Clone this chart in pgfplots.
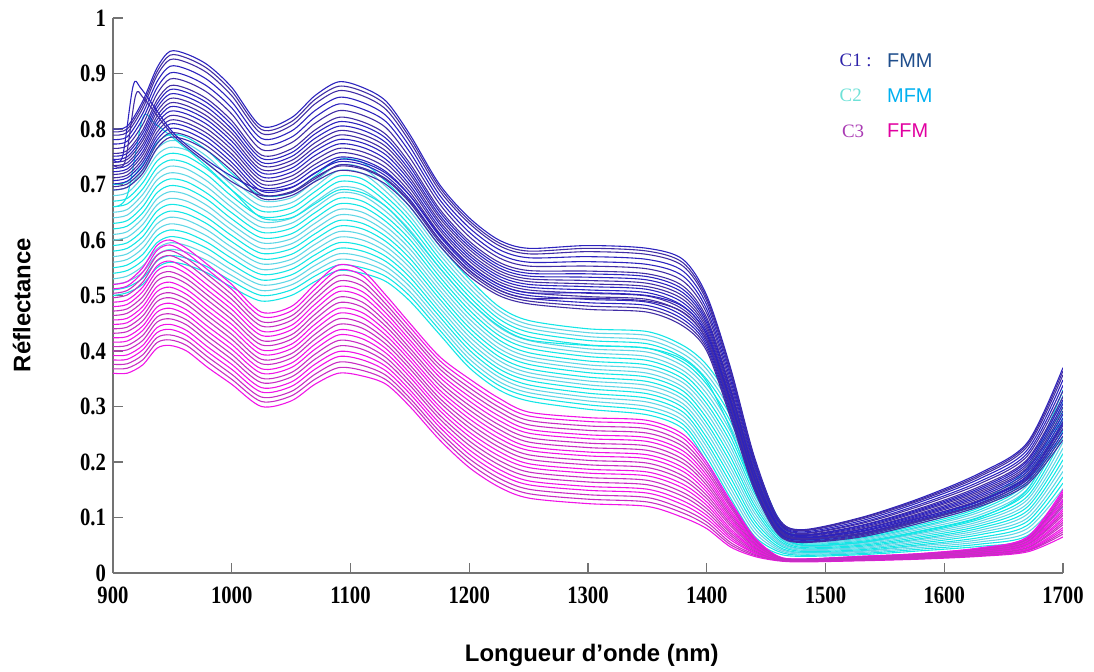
\documentclass[border=0pt]{standalone}
\usepackage{fontspec}
\setmainfont{Liberation Serif}
\setsansfont{Liberation Sans}
\newfontfamily\tickfont{Liberation Serif Bold}[FakeStretch=0.83]
\usepackage{pgfplots}
\pgfplotsset{compat=1.18}
\usepackage{pgfplotstable}

\definecolor{cB1}{RGB}{45,35,190}
\definecolor{cB2}{RGB}{65,45,165}
\definecolor{cC1}{RGB}{20,230,230}
\definecolor{cC2}{RGB}{95,215,230}
\definecolor{cM1}{RGB}{240,20,230}
\definecolor{cM2}{RGB}{200,45,195}
\definecolor{axgray}{RGB}{115,115,115}
\definecolor{lFMM}{RGB}{31,78,140}
\definecolor{lMFM}{RGB}{0,176,240}
\definecolor{lFFM}{RGB}{225,0,160}
\definecolor{lC1}{RGB}{45,35,170}
\definecolor{lC2}{RGB}{110,225,215}
\definecolor{lC3}{RGB}{170,60,180}

\pgfplotstableread{
x b1 b2 b3 b4 b5 b6 b7 b8 b9 b10
900 .80 .789 .773 .756 .745 .734 .723 .712 .701 .69
912 .805 .794 .778 .761 .75 .739 .728 .717 .706 .695
925 .85 .837 .818 .798 .785 .772 .759 .746 .733 .72
937 .91 .896 .874 .852 .838 .823 .809 .794 .78 .765
948 .94 .925 .901 .878 .863 .847 .832 .816 .801 .785
962 .935 .92 .896 .873 .858 .842 .827 .811 .796 .78
980 .915 .90 .876 .853 .838 .822 .807 .791 .776 .76
1000 .875 .86 .838 .815 .80 .785 .77 .755 .74 .725
1025 .805 .792 .773 .753 .74 .727 .714 .701 .688 .675
1050 .82 .806 .785 .764 .75 .736 .722 .708 .694 .68
1070 .86 .845 .821 .798 .783 .767 .752 .736 .721 .705
1090 .885 .869 .845 .821 .805 .789 .773 .757 .741 .725
1110 .875 .86 .836 .813 .798 .782 .767 .751 .736 .72
1130 .85 .835 .813 .79 .775 .76 .745 .73 .715 .70
1150 .79 .777 .758 .738 .725 .712 .699 .686 .673 .66
1175 .70 .689 .673 .656 .645 .634 .623 .612 .601 .59
1200 .64 .63 .614 .598 .588 .577 .567 .556 .546 .535
1225 .60 .59 .575 .56 .55 .54 .53 .52 .51 .50
1250 .585 .575 .56 .545 .535 .525 .515 .505 .495 .485
1300 .59 .579 .561 .544 .533 .521 .51 .498 .487 .475
1350 .585 .574 .556 .539 .528 .516 .505 .493 .482 .47
1380 .565 .553 .535 .517 .505 .493 .481 .469 .457 .445
1400 .50 .49 .475 .46 .45 .44 .43 .42 .41 .40
1420 .37 .361 .348 .334 .325 .316 .307 .298 .289 .28
1440 .21 .204 .195 .186 .18 .174 .168 .162 .156 .15
1460 .10 .097 .093 .088 .085 .082 .079 .076 .073 .07
1480 .078 .076 .072 .069 .067 .064 .062 .06 .057 .055
1530 .10 .097 .091 .086 .083 .079 .076 .072 .069 .065
1580 .135 .131 .124 .117 .113 .108 .104 .099 .095 .09
1630 .18 .174 .165 .156 .15 .144 .138 .132 .126 .12
1670 .235 .228 .216 .205 .198 .19 .183 .175 .168 .16
1700 .37 .357 .338 .318 .305 .292 .279 .266 .253 .24
}\bluetab

\pgfplotstableread{
x d1 d2 d3 d4 d5 d6 d7 d8 d9
900 .795 .781 .765 .751 .74 .729 .718 .707 .696
912 .80 .786 .77 .756 .745 .734 .723 .712 .701
925 .844 .828 .808 .792 .779 .766 .753 .74 .727
937 .903 .885 .863 .845 .831 .816 .802 .787 .773
948 .933 .913 .89 .871 .855 .84 .824 .809 .793
962 .928 .908 .885 .866 .85 .835 .819 .804 .788
980 .908 .888 .865 .846 .83 .815 .799 .784 .768
1000 .868 .849 .827 .808 .793 .778 .763 .748 .733
1025 .799 .783 .763 .747 .734 .721 .708 .695 .682
1050 .813 .796 .775 .757 .743 .729 .715 .701 .687
1070 .853 .833 .81 .791 .775 .76 .744 .729 .713
1090 .877 .857 .833 .813 .797 .781 .765 .749 .733
1110 .868 .848 .825 .806 .79 .775 .759 .744 .728
1130 .843 .824 .802 .783 .768 .753 .738 .723 .708
1150 .784 .768 .748 .732 .719 .706 .693 .68 .667
1175 .695 .681 .665 .651 .64 .629 .618 .607 .596
1200 .635 .622 .606 .593 .583 .572 .562 .551 .541
1225 .595 .583 .568 .555 .545 .535 .525 .515 .505
1250 .58 .568 .553 .54 .53 .52 .51 .50 .49
1300 .585 .57 .553 .539 .527 .516 .504 .493 .481
1350 .58 .565 .548 .534 .522 .511 .499 .488 .476
1380 .559 .544 .526 .511 .499 .487 .475 .463 .451
1400 .495 .483 .468 .455 .445 .435 .425 .415 .405
1420 .366 .355 .341 .33 .321 .312 .303 .294 .285
1440 .207 .20 .191 .183 .177 .171 .165 .159 .153
1460 .099 .095 .091 .087 .084 .081 .078 .075 .072
1480 .077 .074 .071 .068 .066 .063 .061 .059 .056
1530 .099 .094 .089 .085 .081 .078 .074 .071 .067
1580 .133 .128 .121 .115 .111 .106 .102 .097 .093
1630 .177 .17 .161 .153 .147 .141 .135 .129 .123
1670 .232 .222 .211 .202 .194 .187 .179 .172 .164
1700 .364 .348 .328 .312 .299 .286 .273 .26 .247
}\bluemid

\pgfplotstableread{
x c1 c2 c3 c4 c5 c6 c7 c8 c9 c10 c11
900 .70 .68 .66 .64 .62 .60 .58 .56 .54 .52 .50
912 .705 .685 .665 .645 .625 .605 .585 .565 .545 .525 .505
925 .735 .714 .692 .671 .649 .628 .606 .585 .563 .542 .52
937 .775 .753 .73 .708 .685 .663 .64 .618 .595 .573 .55
948 .79 .767 .744 .721 .698 .675 .652 .629 .606 .583 .56
962 .785 .762 .739 .716 .693 .67 .647 .624 .601 .578 .555
980 .76 .738 .716 .694 .672 .65 .628 .606 .584 .562 .54
1000 .72 .70 .679 .659 .638 .618 .597 .577 .556 .536 .515
1025 .68 .661 .642 .623 .604 .585 .566 .547 .528 .509 .49
1050 .685 .667 .648 .63 .611 .593 .574 .556 .537 .519 .50
1070 .715 .696 .677 .658 .639 .62 .601 .582 .563 .544 .525
1090 .745 .725 .705 .685 .665 .645 .625 .605 .585 .565 .545
1110 .74 .72 .70 .68 .66 .64 .62 .60 .58 .56 .54
1130 .705 .687 .669 .651 .633 .615 .597 .579 .561 .543 .525
1150 .66 .643 .626 .609 .592 .575 .558 .541 .524 .507 .49
1175 .59 .574 .558 .542 .526 .51 .494 .478 .462 .446 .43
1200 .53 .514 .498 .482 .466 .45 .434 .418 .402 .386 .37
1225 .48 .465 .45 .435 .42 .405 .39 .375 .36 .345 .33
1250 .455 .441 .426 .412 .397 .383 .368 .354 .339 .325 .31
1300 .44 .426 .411 .397 .382 .368 .353 .339 .324 .31 .295
1350 .435 .42 .405 .39 .375 .36 .345 .33 .315 .30 .285
1380 .41 .395 .38 .365 .35 .335 .32 .305 .29 .275 .26
1400 .375 .358 .34 .323 .305 .288 .27 .253 .235 .218 .20
1420 .31 .292 .273 .255 .236 .218 .199 .181 .162 .144 .125
1440 .20 .186 .172 .158 .144 .13 .116 .102 .088 .074 .06
1460 .10 .094 .087 .081 .074 .068 .061 .055 .048 .042 .035
1480 .065 .062 .058 .055 .051 .048 .044 .041 .037 .034 .03
1530 .07 .066 .063 .059 .055 .052 .048 .044 .04 .037 .033
1580 .095 .09 .084 .079 .073 .068 .062 .057 .051 .046 .04
1630 .13 .122 .114 .105 .097 .089 .081 .073 .064 .056 .048
1670 .19 .177 .164 .151 .138 .125 .112 .099 .086 .073 .06
1700 .33 .309 .288 .267 .246 .225 .204 .183 .162 .141 .12
}\cyantab

\pgfplotstableread{
x e1 e2 e3 e4 e5 e6 e7 e8 e9 e10
900 .69 .67 .65 .63 .61 .59 .57 .55 .53 .51
912 .695 .675 .655 .635 .615 .595 .575 .555 .535 .515
925 .725 .703 .682 .66 .639 .617 .596 .574 .553 .531
937 .764 .742 .719 .697 .674 .652 .629 .607 .584 .562
948 .779 .756 .733 .710 .687 .664 .641 .618 .595 .572
962 .774 .751 .728 .705 .682 .659 .636 .613 .590 .567
980 .749 .727 .705 .683 .661 .639 .617 .595 .573 .551
1000 .71 .69 .669 .649 .628 .608 .587 .567 .546 .526
1025 .671 .652 .633 .614 .595 .576 .557 .538 .519 .50
1050 .676 .658 .639 .621 .602 .584 .565 .547 .528 .51
1070 .706 .687 .668 .649 .63 .611 .592 .573 .554 .535
1090 .735 .715 .695 .675 .655 .635 .615 .595 .575 .555
1110 .73 .71 .69 .67 .65 .63 .61 .59 .57 .55
1130 .696 .678 .66 .642 .624 .606 .588 .57 .552 .534
1150 .652 .635 .618 .601 .584 .567 .55 .533 .516 .499
1175 .582 .566 .55 .534 .518 .502 .486 .47 .454 .438
1200 .522 .506 .49 .474 .458 .442 .426 .41 .394 .378
1225 .473 .458 .443 .428 .413 .398 .383 .368 .353 .338
1250 .448 .434 .419 .405 .39 .376 .361 .347 .332 .318
1300 .433 .419 .404 .39 .375 .361 .346 .332 .317 .303
1350 .428 .413 .398 .383 .368 .353 .338 .323 .308 .293
1380 .403 .388 .373 .358 .343 .328 .313 .298 .283 .268
1400 .367 .349 .332 .314 .297 .279 .262 .244 .227 .209
1420 .301 .283 .264 .246 .227 .209 .19 .172 .153 .135
1440 .193 .179 .165 .151 .137 .123 .109 .095 .081 .067
1460 .097 .091 .084 .078 .071 .065 .058 .052 .045 .039
1480 .064 .06 .057 .053 .05 .046 .043 .039 .036 .032
1530 .068 .065 .061 .057 .054 .05 .046 .042 .039 .035
1580 .093 .087 .082 .076 .071 .065 .06 .054 .049 .043
1630 .126 .118 .11 .101 .093 .085 .077 .069 .06 .052
1670 .184 .171 .158 .145 .132 .119 .106 .093 .08 .067
1700 .32 .299 .278 .257 .236 .215 .194 .173 .152 .131
}\cyanmid

\pgfplotstableread{
x m1 m2 m3 m4 m5 m6 m7 m8 m9 m10 m11
900 .52 .504 .488 .472 .456 .44 .424 .408 .392 .376 .36
912 .525 .509 .492 .476 .459 .443 .426 .41 .393 .377 .36
925 .55 .533 .515 .498 .48 .463 .445 .428 .41 .393 .375
937 .59 .572 .553 .535 .516 .498 .479 .461 .442 .424 .405
948 .60 .581 .562 .543 .524 .505 .486 .467 .448 .429 .41
962 .585 .567 .548 .53 .511 .493 .474 .456 .437 .419 .40
980 .555 .537 .518 .50 .481 .463 .444 .426 .407 .389 .37
1000 .52 .502 .484 .466 .448 .43 .412 .394 .376 .358 .34
1025 .47 .453 .436 .419 .402 .385 .368 .351 .334 .317 .30
1050 .48 .463 .446 .429 .412 .395 .378 .361 .344 .327 .31
1070 .52 .502 .484 .466 .448 .43 .412 .394 .376 .358 .34
1090 .555 .536 .516 .497 .477 .458 .438 .419 .399 .38 .36
1110 .545 .526 .507 .488 .469 .45 .431 .412 .393 .374 .355
1130 .50 .484 .468 .452 .436 .42 .404 .388 .372 .356 .34
1150 .45 .435 .42 .405 .39 .375 .36 .345 .33 .315 .30
1175 .39 .375 .36 .345 .33 .315 .30 .285 .27 .255 .24
1200 .35 .334 .318 .302 .286 .27 .254 .238 .222 .206 .19
1225 .315 .299 .283 .267 .251 .235 .219 .203 .187 .171 .155
1250 .29 .275 .259 .244 .228 .213 .197 .182 .166 .151 .135
1300 .28 .265 .249 .234 .218 .203 .187 .172 .156 .141 .125
1350 .275 .26 .244 .229 .213 .198 .182 .167 .151 .136 .12
1380 .25 .235 .22 .205 .19 .175 .16 .145 .13 .115 .10
1400 .20 .188 .176 .164 .152 .14 .128 .116 .104 .092 .08
1420 .13 .122 .113 .105 .097 .089 .08 .072 .064 .055 .047
1440 .065 .062 .058 .055 .051 .048 .044 .041 .037 .034 .03
1460 .03 .029 .028 .028 .027 .026 .025 .024 .024 .023 .022
1480 .025 .025 .024 .024 .023 .023 .022 .022 .021 .021 .02
1530 .03 .029 .028 .028 .027 .026 .025 .024 .024 .023 .022
1580 .035 .034 .033 .032 .031 .03 .029 .028 .027 .026 .025
1630 .045 .044 .042 .041 .039 .038 .036 .035 .033 .032 .03
1670 .065 .062 .06 .057 .054 .052 .049 .046 .043 .041 .038
1700 .15 .142 .133 .125 .116 .108 .099 .091 .082 .074 .065
}\magtab

\pgfplotstableread{
x n1 n2 n3 n4 n5 n6 n7 n8 n9 n10
900 .512 .496 .48 .464 .448 .432 .416 .40 .384 .368
912 .517 .501 .484 .468 .451 .435 .418 .402 .385 .369
925 .542 .524 .507 .489 .472 .454 .437 .419 .402 .384
937 .581 .563 .544 .526 .507 .489 .47 .452 .433 .415
948 .591 .572 .553 .534 .515 .496 .477 .458 .439 .42
962 .576 .558 .539 .521 .502 .484 .465 .447 .428 .41
980 .546 .528 .509 .491 .472 .454 .435 .417 .398 .38
1000 .511 .493 .475 .457 .439 .421 .403 .385 .367 .349
1025 .462 .445 .428 .411 .394 .377 .36 .343 .326 .309
1050 .472 .455 .438 .421 .404 .387 .37 .353 .336 .319
1070 .511 .493 .475 .457 .439 .421 .403 .385 .367 .349
1090 .546 .526 .507 .487 .468 .448 .429 .409 .39 .37
1110 .536 .517 .498 .479 .46 .441 .422 .403 .384 .365
1130 .492 .476 .46 .444 .428 .412 .396 .38 .364 .348
1150 .443 .428 .413 .398 .383 .368 .353 .338 .323 .308
1175 .383 .368 .353 .338 .323 .308 .293 .278 .263 .248
1200 .342 .326 .31 .294 .278 .262 .246 .23 .214 .198
1225 .307 .291 .275 .259 .243 .227 .211 .195 .179 .163
1250 .283 .267 .252 .236 .221 .205 .19 .174 .159 .143
1300 .273 .257 .242 .226 .211 .195 .18 .164 .149 .133
1350 .268 .252 .237 .221 .206 .19 .175 .159 .144 .128
1380 .243 .228 .213 .198 .183 .168 .153 .138 .123 .108
1400 .194 .182 .17 .158 .146 .134 .122 .11 .098 .086
1420 .126 .118 .109 .101 .093 .085 .076 .068 .06 .051
1440 .064 .06 .057 .053 .05 .046 .043 .039 .036 .032
1460 .03 .029 .028 .028 .027 .026 .025 .024 .024 .023
1480 .025 .025 .024 .024 .023 .023 .022 .022 .021 .021
1530 .03 .029 .028 .028 .027 .026 .025 .024 .024 .023
1580 .035 .034 .033 .032 .031 .03 .029 .028 .027 .026
1630 .045 .043 .042 .04 .039 .037 .036 .034 .033 .031
1670 .064 .061 .059 .056 .053 .051 .048 .045 .042 .04
1700 .146 .138 .129 .121 .112 .104 .095 .087 .078 .07
}\magmid

\begin{document}
\begin{tikzpicture}
\path[use as bounding box] (-56.5bp,-49.5bp) rectangle (490.5bp,286.5bp);
\begin{axis}[
  at={(0,0)}, anchor=south west,
  scale only axis, width=475bp, height=277.5bp,
  xmin=900, xmax=1700, ymin=0, ymax=1,
  axis x line=bottom, axis y line=left,
  axis line style={-, draw=axgray, line width=0.8pt},
  xtick={900,1000,1100,1200,1300,1400,1500,1600,1700},
  ytick={0,0.1,0.2,0.3,0.4,0.5,0.6,0.7,0.8,0.9,1},
  tick align=inside, major tick length=5bp,
  tick style={draw=axgray, line width=0.6pt},
  /pgf/number format/assume math mode=true,
  tick label style={font=\tickfont\fontsize{12.5}{14}\selectfont},
  xticklabel style={yshift=-3.5bp, /pgf/number format/set thousands separator={}},
  yticklabel style={/pgf/number format/fixed, /pgf/number format/precision=1},
  xlabel={Longueur d'onde (nm)},
  ylabel={Réflectance},
  label style={font=\sffamily\bfseries\fontsize{12}{14}\selectfont},
  xlabel style={at={(axis description cs:0.504,-0.148)}, anchor=center},
  ylabel style={at={(axis description cs:-0.096,0.483)}, anchor=center, rotate=0},
  every axis plot/.append style={no marks, smooth, line width=0.55pt},
]
% cyan (MFM)
\pgfplotsinvokeforeach{1,3,5,7,9,11}{\addplot[cC1] table[x index=0, y index=#1] {\cyantab};}
\pgfplotsinvokeforeach{2,4,6,8,10}{\addplot[cC2] table[x index=0, y index=#1] {\cyantab};}
\pgfplotsinvokeforeach{1,3,5,7,9}{\addplot[cC2] table[x index=0, y index=#1] {\cyanmid};}
\pgfplotsinvokeforeach{2,4,6,8,10}{\addplot[cC1] table[x index=0, y index=#1] {\cyanmid};}
\addplot[cC1] coordinates {(900,.66) (912,.68) (925,.82) (935,.81) (950,.785) (975,.74) (1000,.69) (1025,.64) (1050,.64) (1070,.665) (1090,.69) (1110,.685) (1130,.66) (1150,.615) (1175,.55) (1200,.49) (1225,.445) (1250,.42) (1300,.41) (1350,.405) (1380,.385) (1400,.345) (1420,.26) (1440,.15) (1460,.075) (1480,.05) (1530,.055) (1580,.075) (1630,.10) (1670,.15) (1700,.28)};
% magenta (FFM)
\pgfplotsinvokeforeach{1,3,5,7,9,11}{\addplot[cM1] table[x index=0, y index=#1] {\magtab};}
\pgfplotsinvokeforeach{2,4,6,8,10}{\addplot[cM2] table[x index=0, y index=#1] {\magtab};}
\pgfplotsinvokeforeach{1,3,5,7,9}{\addplot[cM1] table[x index=0, y index=#1] {\magmid};}
\pgfplotsinvokeforeach{2,4,6,8,10}{\addplot[cM2] table[x index=0, y index=#1] {\magmid};}
% blue (FMM)
\pgfplotsinvokeforeach{1,3,5,7,9}{\addplot[cB1] table[x index=0, y index=#1] {\bluetab};}
\pgfplotsinvokeforeach{2,4,6,8,10}{\addplot[cB2] table[x index=0, y index=#1] {\bluetab};}
\pgfplotsinvokeforeach{1,3,5,7,9}{\addplot[cB2] table[x index=0, y index=#1] {\bluemid};}
\pgfplotsinvokeforeach{2,4,6,8}{\addplot[cB1] table[x index=0, y index=#1] {\bluemid};}
\addplot[cB1] coordinates {(900,.745) (908,.75) (917,.878) (924,.872) (950,.795) (975,.75) (1000,.715) (1025,.69) (1050,.695) (1070,.72) (1090,.745) (1110,.74) (1130,.72) (1150,.68) (1175,.61) (1200,.555) (1225,.52) (1250,.505) (1300,.505) (1350,.50) (1380,.48) (1400,.43) (1420,.31) (1440,.17) (1460,.085) (1480,.065) (1530,.075) (1580,.10) (1630,.13) (1670,.175) (1700,.27)};
\addplot[cB2] coordinates {(900,.735) (910,.74) (919,.86) (926,.855) (950,.79) (975,.745) (1000,.705) (1025,.68) (1050,.685) (1070,.71) (1090,.735) (1110,.73) (1130,.71) (1150,.67) (1175,.60) (1200,.545) (1225,.51) (1250,.495) (1300,.495) (1350,.49) (1380,.47) (1400,.42) (1420,.30) (1440,.165) (1460,.08) (1480,.062) (1530,.07) (1580,.095) (1630,.125) (1670,.17) (1700,.26)};
% legend text
\node[anchor=base west, font=\fontsize{9.5}{11}\selectfont, text=lC1] at (axis cs:1506,0.912) {C1 :};
\node[anchor=base west, font=\sffamily\fontsize{10}{12}\selectfont, text=lFMM] at (axis cs:1546,0.91) {FMM};
\node[anchor=base west, font=\fontsize{9.5}{11}\selectfont, text=lC2] at (axis cs:1506,0.85) {C2};
\node[anchor=base west, font=\sffamily\fontsize{10}{12}\selectfont, text=lMFM] at (axis cs:1546,0.847) {MFM};
\node[anchor=base west, font=\fontsize{9.5}{11}\selectfont, text=lC3] at (axis cs:1508,0.784) {C3};
\node[anchor=base west, font=\sffamily\fontsize{10}{12}\selectfont, text=lFFM] at (axis cs:1546,0.784) {FFM};
\end{axis}
\end{tikzpicture}
\end{document}
